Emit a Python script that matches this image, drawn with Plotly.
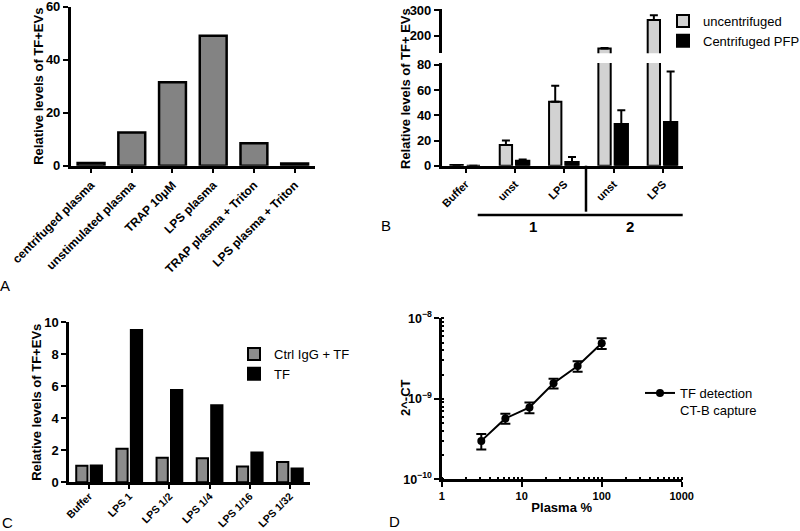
import plotly.graph_objects as go

W, H = 800, 531
FONT = "Liberation Sans, Arial, Helvetica, sans-serif"

# ---------------- Panel A data ----------------
a_categories = ["centrifuged plasma", "unstimulated plasma", "TRAP 10\u03bcM",
                "LPS plasma", "TRAP plasma + Triton", "LPS plasma + Triton"]
a_values = [1.0, 12.5, 31.5, 49.0, 8.5, 0.8]

# ---------------- Panel B data ----------------
b_tick_labels = ["Buffer", "unst", "LPS", "unst", "LPS"]
b_group_labels = ["1", "2"]
b_uncentrifuged = [0.6, 16.4, 50.8, 150.0, 261.0]
b_uncentrifuged_err = [0.0, 3.5, 12.7, 2.0, 19.0]
b_centrifuged = [0.0, 4.0, 3.0, 33.0, 34.7]
b_centrifuged_err = [0.0, 1.0, 4.0, 11.0, 40.0]
b_no_err = [0.0, 0.0, 0.0, 0.0, 0.0]

# ---------------- Panel C data ----------------
c_categories = ["Buffer", "LPS 1", "LPS 1/2", "LPS 1/4", "LPS 1/16", "LPS 1/32"]
c_ctrl_igg = [1.04, 2.1, 1.54, 1.5, 0.98, 1.27]
c_tf = [1.05, 9.52, 5.77, 4.81, 1.87, 0.87]

# ---------------- Panel D data ----------------
d_plasma_pct = [3.125, 6.25, 12.5, 25, 50, 100]
d_values = [3.0e-10, 5.7e-10, 7.8e-10, 1.56e-9, 2.55e-9, 4.9e-9]
d_err = [0.65e-10, 0.8e-10, 1.2e-10, 0.22e-9, 0.38e-9, 0.74e-9]


def px(x):
    return x / W


def py(y):
    return 1 - y / H


def xd(a, b):
    return [a / W, b / W]


def yd(top, bottom):
    return [1 - bottom / H, 1 - top / H]


axis_common = dict(showline=True, linecolor="black", linewidth=2.5,
                   ticks="outside", ticklen=5, tickwidth=2, tickcolor="black",
                   showgrid=False, zeroline=False, mirror=False, automargin=False,
                   ticklabeloverflow="allow")

fig = go.Figure()

# Panel A
fig.add_trace(go.Bar(x=a_categories, y=a_values, xaxis="x", yaxis="y",
                     width=0.66, showlegend=False,
                     marker=dict(color="#838383", line=dict(color="black", width=2.5))))

# Panel B (lower and upper segments of broken axis)
b_x = list(range(len(b_tick_labels)))
err_style = dict(type="data", symmetric=False, color="black", thickness=2, width=4)
fig.add_trace(go.Bar(x=b_x, y=b_uncentrifuged, xaxis="x2", yaxis="y2",
                     name="uncentrifuged", legend="legend",
                     offset=-0.31, width=0.25,
                     marker=dict(color="#d2d2d2", line=dict(color="black", width=2)),
                     error_y=dict(array=b_uncentrifuged_err, arrayminus=b_no_err, **err_style)))
fig.add_trace(go.Bar(x=b_x, y=b_centrifuged, xaxis="x2", yaxis="y2",
                     name="Centrifuged PFP", legend="legend",
                     offset=0.02, width=0.27,
                     marker=dict(color="black", line=dict(color="black", width=2)),
                     error_y=dict(array=b_centrifuged_err, arrayminus=b_no_err, **err_style)))
fig.add_trace(go.Bar(x=b_x, y=b_uncentrifuged, xaxis="x2", yaxis="y3",
                     showlegend=False, offset=-0.31, width=0.25,
                     marker=dict(color="#d2d2d2", line=dict(color="black", width=2)),
                     error_y=dict(array=b_uncentrifuged_err, arrayminus=b_no_err, **err_style)))

# Panel C
fig.add_trace(go.Bar(x=c_categories, y=c_ctrl_igg, xaxis="x4", yaxis="y4",
                     name="Ctrl IgG + TF", legend="legend2",
                     offset=-0.32, width=0.28,
                     marker=dict(color="#8c8c8c", line=dict(color="black", width=2))))
fig.add_trace(go.Bar(x=c_categories, y=c_tf, xaxis="x4", yaxis="y4",
                     name="TF", legend="legend2",
                     offset=0.04, width=0.28,
                     marker=dict(color="black", line=dict(color="black", width=2))))

# Panel D
fig.add_trace(go.Scatter(x=d_plasma_pct, y=d_values, xaxis="x5", yaxis="y5",
                         mode="lines+markers", name="TF detection<br>CT-B capture",
                         legend="legend3",
                         line=dict(color="black", width=2),
                         marker=dict(color="black", size=8, symbol="circle"),
                         error_y=dict(type="data", array=d_err, color="black",
                                      thickness=2, width=5)))

bold13 = dict(family=FONT, size=13, color="black", weight="bold")
bold11 = dict(family=FONT, size=11, color="black", weight="bold")
bold105 = dict(family=FONT, size=10.5, color="black", weight="bold")
bold10 = dict(family=FONT, size=10, color="black", weight="bold")
bold12 = dict(family=FONT, size=12, color="black", weight="bold")
reg13 = dict(family=FONT, size=13, color="black")

fig.update_layout(
    width=W, height=H, margin=dict(l=0, r=0, t=0, b=0, autoexpand=False),
    paper_bgcolor="white", plot_bgcolor="white",
    font=dict(family=FONT, size=13, color="black"),
    barmode="overlay",
    # A
    xaxis=dict(axis_common, domain=xd(70.7, 315), anchor="y", range=[-0.5, 5.5],
               tickangle=-45, tickfont=bold12),
    yaxis=dict(axis_common, domain=yd(6.7, 165.7), anchor="x", range=[0, 60], dtick=20,
               tickfont=bold13,
               title=dict(text="<b>Relative levels of TF+EVs</b>", font=bold13, standoff=0)),
    # B lower
    xaxis2=dict(axis_common, domain=xd(441.7, 682.7), anchor="y2", range=[-0.487, 4.40],
                tickmode="array", tickvals=b_x, ticktext=b_tick_labels,
                tickangle=-45, tickfont=bold11),
    yaxis2=dict(axis_common, domain=yd(63, 165.7), anchor="x2", range=[0, 81.5],
                tickmode="linear", tick0=0, dtick=20, tickfont=bold13),
    # B upper
    yaxis3=dict(axis_common, domain=yd(9.3, 53.3), anchor="x2", range=[131.5, 302.7],
                tickmode="linear", tick0=0, dtick=100, tickfont=bold13),
    # C
    xaxis4=dict(axis_common, domain=xd(69, 310), anchor="y4", range=[-0.5, 5.5],
                tickangle=-45, tickfont=bold105, ticklen=4, ticklabelstandoff=-3),
    yaxis4=dict(axis_common, domain=yd(322.3, 482.3), anchor="x4", range=[0, 10], dtick=2,
                tickfont=bold13,
                title=dict(text="<b>Relative levels of TF+EVs</b>", font=bold13, standoff=0)),
    # D
    xaxis5=dict(axis_common, domain=xd(441.7, 681.7), anchor="y5", type="log",
                range=[0, 3], dtick=1, exponentformat="none", tickfont=bold11,
                minor=dict(ticks="inside", ticklen=3, tickwidth=1.5, tickcolor="black", showgrid=False),
                title=dict(text="<b>Plasma %</b>", font=bold13, standoff=2)),
    yaxis5=dict(axis_common, domain=yd(318.3, 479.3), anchor="x5", type="log",
                range=[-10, -8], dtick=1, exponentformat="power", tickfont=bold10,
                minor=dict(ticks="inside", ticklen=3, tickwidth=1.5, tickcolor="black", showgrid=False)),
    legend=dict(x=px(663), y=py(6), xanchor="left", yanchor="top",
                bgcolor="rgba(0,0,0,0)", font=reg13),
    legend2=dict(x=px(234), y=py(339), xanchor="left", yanchor="top",
                 bgcolor="rgba(0,0,0,0)", font=reg13),
    legend3=dict(x=px(640), y=py(378), xanchor="left", yanchor="top", valign="top",
                 bgcolor="rgba(0,0,0,0)", font=reg13),
)

# Panel B y title spanning both segments, panel D y title, group labels, panel letters
annotations = [
    dict(text="<b>Relative levels of TF+ EVs</b>", x=px(406), y=py(88), textangle=-90, font=bold13),
    dict(text="<b>2^-CT</b>", x=px(405), y=py(398), textangle=-90, font=bold13),
    dict(text="<b>%s</b>" % b_group_labels[0], x=px(533), y=py(226),
         font=dict(family=FONT, size=15, color="black")),
    dict(text="<b>%s</b>" % b_group_labels[1], x=px(630), y=py(226),
         font=dict(family=FONT, size=15, color="black")),
]
for letter, (lx, ly) in zip("ABCD", [(5, 285), (386, 225), (7, 522), (394, 521)]):
    annotations.append(dict(text=letter, x=px(lx), y=py(ly),
                            font=dict(family=FONT, size=15, color="black")))
for ann in annotations:
    ann.update(xref="paper", yref="paper", xanchor="center", yanchor="middle", showarrow=False)
fig.update_layout(annotations=annotations)

# Group bracket lines in panel B
fig.add_shape(type="line", xref="paper", yref="paper", x0=px(586), x1=px(586),
              y0=py(165.7), y1=py(211.7), line=dict(color="black", width=2.5))
fig.add_shape(type="line", xref="paper", yref="paper", x0=px(477.7), x1=px(682.7),
              y0=py(215), y1=py(215), line=dict(color="black", width=2.5))

fig.write_html("out.html", config={"displayModeBar": False},
               post_script="document.body.style.margin='0px';")
